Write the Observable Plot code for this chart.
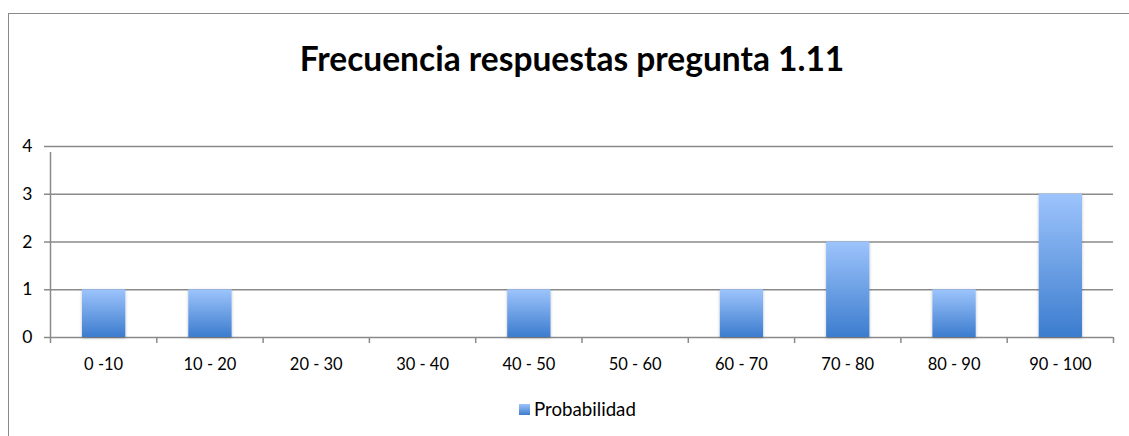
<!DOCTYPE html>
<html>
<head>
<meta charset="utf-8">
<script src="https://cdn.jsdelivr.net/npm/d3@7"></script>
<script src="https://cdn.jsdelivr.net/npm/@observablehq/plot@0.6"></script>
<style>
  html, body { margin: 0; padding: 0; background: #fff; width: 1129px; height: 436px; overflow: hidden; }
  #wrap { position: relative; width: 1129px; height: 436px; font-family: Lato, "Open Sans", sans-serif; }
  #frame { position: absolute; left: 8px; top: 13px; width: 1200px; height: 500px; border: 1.5px solid #8a8a8a; box-sizing: border-box; }
  #title { position: absolute; left: 0; width: 1144px; top: 38px; line-height: 40px; text-align: center; font-weight: bold; font-size: 33.5px; color: #000; }
  #chart { position: absolute; left: 0; top: 0; }
  #legend { position: absolute; top: 397px; left: 519px; font-size: 18.7px; line-height: 24px; color: #000; display: flex; align-items: center; }
  #legend .sw { width: 11px; height: 11px; background: linear-gradient(#9dc3fb, #3d7dcd); margin-right: 4px; }
</style>
</head>
<body>
<div id="wrap">
  <div id="frame"></div>
  <div id="title">Frecuencia respuestas pregunta 1.11</div>
  <div id="chart"></div>
  <div id="legend"><div class="sw"></div><span>Probabilidad</span></div>
</div>
<script>
const categories = ["0 -10", "10 - 20", "20 - 30", "30 - 40", "40 - 50", "50 - 60", "60 - 70", "70 - 80", "80 - 90", "90 - 100"];
const values = [1, 1, 0, 0, 1, 0, 1, 2, 1, 3];
const yTicks = [0, 1, 2, 3, 4];

const data = categories.map((c, i) => ({cat: c, i, v: values[i]}));

const gradient = () => {
  const ns = "http://www.w3.org/2000/svg";
  const defs = document.createElementNS(ns, "defs");
  defs.innerHTML = `
    <linearGradient id="barGrad" x1="0" y1="0" x2="0" y2="1">
      <stop offset="0" stop-color="#9dc4fc"/>
      <stop offset="1" stop-color="#3c7cce"/>
    </linearGradient>
    <filter id="barShadow" x="-20%" y="-20%" width="140%" height="140%">
      <feDropShadow dx="0" dy="1" stdDeviation="1.5" flood-color="#000" flood-opacity="0.25"/>
    </filter>`;
  return defs;
};

const chart = Plot.plot({
  width: 1129,
  height: 380,
  marginLeft: 50,
  marginRight: 16,
  marginTop: 146,
  marginBottom: 43,
  style: {background: "transparent", fontFamily: "Lato, 'Open Sans', sans-serif", overflow: "visible"},
  x: {type: "linear", domain: [0, categories.length]},
  y: {domain: [0, 4]},
  marks: [
    gradient,
    Plot.ruleY(yTicks, {stroke: "#8a8a8a", strokeWidth: 1.5, strokeOpacity: 1, insetLeft: -6}),
    Plot.ruleX([0], {y1: 0, y2: 4, stroke: "#8a8a8a", strokeWidth: 1.5, insetBottom: -6}),
    Plot.axisX(d3.range(categories.length + 1), {tickSize: 6, tickFormat: () => "", stroke: "#8a8a8a", strokeWidth: 1.5, label: null}),
    Plot.axisX(d3.range(categories.length).map(i => i + 0.5), {
      tickSize: 0, tickPadding: 21, tickFormat: d => categories[Math.floor(d)],
      fontSize: 16.5, fill: "#000", label: null
    }),
    Plot.axisY(yTicks, {tickSize: 0, tickPadding: 18, fontSize: 17.5, fill: "#000", label: null}),
    Plot.rectY(data.filter(d => d.v > 0), {
      x1: d => d.i, x2: d => d.i + 1, y: "v",
      insetLeft: 32, insetRight: 31,
      fill: "url(#barGrad)"
    })
  ]
});
d3.select(chart).selectAll("rect").filter(function() { return this.getAttribute("fill") === "url(#barGrad)" || (this.parentNode && this.parentNode.getAttribute("fill") === "url(#barGrad)"); })
  .attr("filter", "url(#barShadow)");
document.getElementById("chart").appendChild(chart);
</script>
</body>
</html>
